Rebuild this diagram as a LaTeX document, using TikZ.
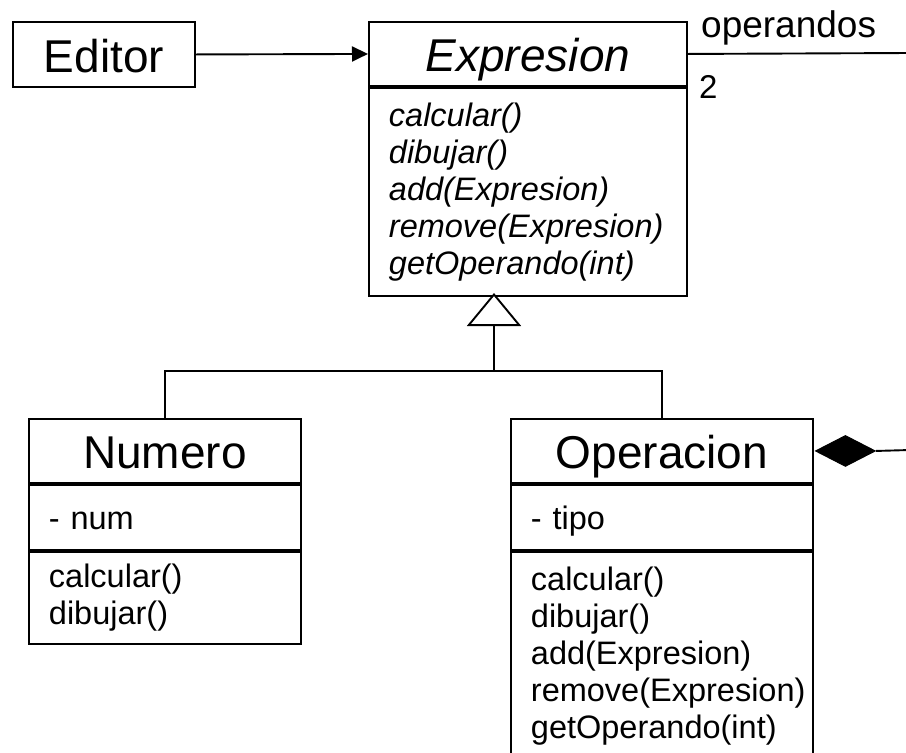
\documentclass[tikz,border=0pt]{standalone}
\usepackage{fontspec}
\setmainfont{Liberation Sans}
\usetikzlibrary{arrows.meta,shapes.geometric}

\tikzset{
  uml/.style={draw, line width=1.9pt, rectangle, inner sep=0pt, anchor=north west},
  clsname/.style={uml, text height=38pt, text depth=2pt, font=\fontsize{46}{52}\selectfont},
  members/.style={uml, align=left, inner xsep=20pt, font=\fontsize{32.5}{37}\selectfont},
  attrs/.style={members, text height=28pt, text depth=3pt},
  wire/.style={line width=1.9pt},
  composite/.style={diamond, fill=black, draw=black, line width=1pt, inner sep=0pt,
    minimum width=60pt, minimum height=31pt, shape aspect=1.9, anchor=west},
  lbl/.style={inner sep=0pt, anchor=west, font=\fontsize{37}{42}\selectfont}
}

\begin{document}
\begin{tikzpicture}[x=1pt, y=-1pt]
\useasboundingbox (0,0) rectangle (906,753);

% Editor
\node[clsname, minimum width=182pt, minimum height=65pt] (editor) at (12,21) {Editor};

% Expresion (abstract)
\node[clsname, minimum width=318pt, minimum height=64pt] (expr) at (368,21) {\itshape Expresion};
\node[members, minimum height=208pt, text width=278pt] (exprops) at (expr.south west)
  {\itshape calcular()\\ \itshape dibujar()\\ \itshape add(Expresion)\\ \itshape remove(Expresion)\\ \itshape getOperando(int)};

% Numero
\node[clsname, minimum width=272pt, minimum height=64pt] (numero) at (28,418) {Numero};
\node[attrs, minimum height=65pt, text width=232pt] (numattr) at (numero.south west) {- num};
\node[members, minimum height=92pt, text width=232pt] (numops) at (numattr.south west)
  {calcular()\\ dibujar()};

% Operacion
\node[clsname, minimum width=302pt, minimum height=64pt] (oper) at (510,418) {Operacion};
\node[attrs, minimum height=65pt, text width=262pt] (opattr) at (oper.south west) {- tipo};
\node[members, minimum height=208pt, text width=262pt] (opops) at (opattr.south west)
  {calcular()\\ dibujar()\\ add(Expresion)\\ remove(Expresion)\\ getOperando(int)};

% Editor -> Expresion
\draw[wire, -{Triangle[length=16pt 0 0, width=15pt 0 0]}] (editor.east) -- (expr.west);

% Generalization
\coordinate (apex) at (494,293);
\coordinate (join) at (494,371);
\draw[wire] (numero.north) |- (join) -| (oper.north);
\draw[wire, -{Triangle[open, length=33pt, width=54pt, fill=white]}] (join) -- (apex);

% operandos association and composition
\node[composite] (comp) at ([xshift=1pt]oper.east) {};
\coordinate (assocEnd) at (910,53);
\coordinate (compEnd) at (910,450);
\draw[wire] (expr.east) -- (assocEnd);
\draw[wire] (comp.east) -- (compEnd);
\node[lbl] (rolename) at (701,28) {operandos};
\node[lbl, font=\fontsize{33}{38}\selectfont] (mult) at (699,87) {2};
\end{tikzpicture}
\end{document}
